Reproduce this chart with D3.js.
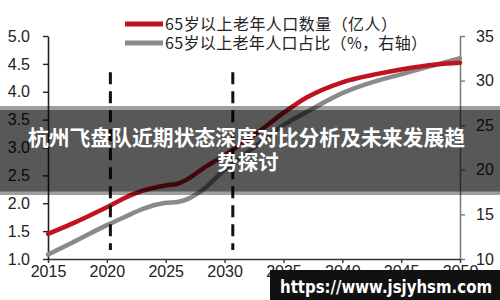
<!DOCTYPE html>
<html>
<head>
<meta charset="utf-8">
<script src="https://cdn.jsdelivr.net/npm/d3@7/dist/d3.min.js"></script>
<style>
  html, body { margin: 0; padding: 0; background: #fff; }
  svg { display: block; }
</style>
</head>
<body>
<svg id="chart" width="500" height="300"></svg>
<script>
// ---- data ----
const years       = [2015, 2017, 2020, 2022, 2023, 2025, 2026, 2027, 2028, 2030, 2033, 2035, 2037, 2040, 2043, 2045, 2048, 2050];
const popValues   = [1.45, 1.63, 1.93, 2.14, 2.22, 2.32, 2.35, 2.45, 2.60, 2.86, 3.30, 3.62, 3.90, 4.17, 4.32, 4.40, 4.49, 4.52];
const shareValues = [10.5, 11.8, 13.8, 15.0, 15.6, 16.3, 16.4, 16.8, 17.6, 20.0, 23.0, 25.0, 26.5, 28.6, 30.0, 30.7, 31.8, 32.5];
const xTicks      = [2015, 2020, 2025, 2030, 2035, 2040, 2045, 2050];
const leftTicks   = [1.0, 1.5, 2.0, 2.5, 3.0, 3.5, 4.0, 4.5, 5.0];
const rightTicks  = [10, 15, 20, 25, 30, 35];
const markerYears = [2020.3, 2030.7];
const markerRange = [1.16, 4.35];
const legendLabels = ["65岁以上老年人口数量（亿人）", "65岁以上老年人口占比（%，右轴）"];
const titleLines  = ["杭州飞盘队近期状态深度对比分析及未来发展趋", "势探讨"];
const urlText     = "https://www.jsjyhsm.com";

const svg = d3.select("#chart");
const x  = d3.scaleLinear().domain([2015, 2050]).range([48, 460]);
const yL = d3.scaleLinear().domain([1, 5]).range([259, 36]);
const yR = d3.scaleLinear().domain([10, 35]).range([259, 36]);

const axisFont = "'Liberation Sans', Arial, sans-serif";

// left axis
const gL = svg.append("g").attr("transform", `translate(${x(2015)},0)`)
  .call(d3.axisLeft(yL).tickValues(leftTicks).tickSize(5).tickSizeOuter(0).tickPadding(13).tickFormat(d3.format(".1f")));
gL.select(".domain").attr("stroke", "#222").attr("stroke-width", 1.6);
gL.selectAll(".tick line").attr("stroke", "#222").attr("stroke-width", 1.4);
gL.selectAll(".tick text").attr("font-family", axisFont).attr("font-size", 16).attr("fill", "#222");

// right axis
const gR = svg.append("g").attr("transform", `translate(${x(2050)},0)`)
  .call(d3.axisRight(yR).tickValues(rightTicks).tickSize(5).tickSizeOuter(0).tickPadding(11).tickFormat(d3.format("d")));
gR.select(".domain").attr("stroke", "#7a7a7a").attr("stroke-width", 1.5);
gR.selectAll(".tick line").attr("stroke", "#7a7a7a").attr("stroke-width", 1.4);
gR.selectAll(".tick text").attr("font-family", axisFont).attr("font-size", 16).attr("fill", "#222");

// bottom axis
const gB = svg.append("g").attr("transform", `translate(0,${yL(1)})`)
  .call(d3.axisBottom(x).tickValues(xTicks).tickSize(4).tickSizeOuter(0).tickPadding(3).tickFormat(d3.format("d")));
gB.select(".domain").attr("stroke", "#333").attr("stroke-width", 1.6);
gB.selectAll(".tick line").attr("stroke", "#333").attr("stroke-width", 1.4);
gB.selectAll(".tick text").attr("font-family", axisFont).attr("font-size", 16).attr("fill", "#222");

// series lines
const linePop = d3.line().x((d, i) => x(years[i])).y(d => yL(d)).curve(d3.curveMonotoneX);
const lineShare = d3.line().x((d, i) => x(years[i])).y(d => yR(d)).curve(d3.curveMonotoneX);

svg.append("path").datum(shareValues).attr("d", lineShare)
  .attr("fill", "none").attr("stroke", "#8a8a8a").attr("stroke-width", 4.5).attr("stroke-linecap", "round");
svg.append("path").datum(popValues).attr("d", linePop)
  .attr("fill", "none").attr("stroke", "#be1420").attr("stroke-width", 4.5).attr("stroke-linecap", "round");

// dashed markers
svg.selectAll("line.marker").data(markerYears).enter().append("line")
  .attr("class", "marker")
  .attr("x1", d => x(d)).attr("x2", d => x(d))
  .attr("y1", yL(markerRange[1])).attr("y2", yL(markerRange[0]))
  .attr("stroke", "#111").attr("stroke-width", 3).attr("stroke-dasharray", "12,7");

// legend
const legendColors = ["#be1420", "#8a8a8a"];
const legendWidths = [232, 262];
const lg = svg.append("g");
legendLabels.forEach((lab, i) => {
  const cy = 24 + i * 19;
  lg.append("line").attr("x1", 125).attr("x2", 163).attr("y1", cy).attr("y2", cy)
    .attr("stroke", legendColors[i]).attr("stroke-width", 5);
  lg.append("text").attr("x", 165).attr("y", cy + 6)
    .attr("font-family", "'Noto Sans CJK SC', sans-serif").attr("font-size", 16)
    .attr("fill", "#222").attr("textLength", legendWidths[i]).attr("lengthAdjust", "spacing")
    .text(lab);
});

// title banner overlay
svg.append("rect").attr("x", 0).attr("y", 106).attr("width", 500).attr("height", 89)
  .attr("fill", "#000").attr("fill-opacity", 0.38);
svg.append("rect").attr("x", 0).attr("y", 110).attr("width", 500).attr("height", 81.5)
  .attr("fill", "#000").attr("fill-opacity", 0.44);
svg.append("text").attr("x", 28).attr("y", 145)
  .attr("font-family", "'Noto Sans CJK SC', sans-serif").attr("font-weight", "bold").attr("font-size", 21)
  .attr("fill", "#fff").attr("textLength", 437).attr("lengthAdjust", "spacingAndGlyphs")
  .text(titleLines[0]);
svg.append("text").attr("x", 248).attr("y", 170).attr("text-anchor", "middle")
  .attr("font-family", "'Noto Sans CJK SC', sans-serif").attr("font-weight", "bold").attr("font-size", 20.5)
  .attr("fill", "#fff")
  .text(titleLines[1]);

// url box
svg.append("rect").attr("x", 270).attr("y", 270).attr("width", 230).attr("height", 30).attr("fill", "#111");
svg.append("text").attr("x", 280).attr("y", 293)
  .attr("font-family", "'DejaVu Sans', sans-serif").attr("font-weight", "bold").attr("font-size", 17)
  .attr("fill", "#fff").attr("textLength", 212).attr("lengthAdjust", "spacingAndGlyphs")
  .text(urlText);
</script>
</body>
</html>
